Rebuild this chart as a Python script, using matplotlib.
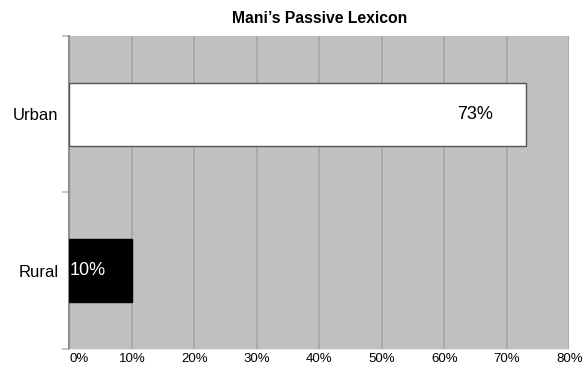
import matplotlib.pyplot as plt

# datos
categorias = ['Rural', 'Urban']
valores = [10, 73]
colores = ['black', 'white']
etiquetas = ['10%', '73%']
xticks = [0, 10, 20, 30, 40, 50, 60, 70, 80]

plt.rcParams['font.family'] = ['Liberation Sans', 'DejaVu Sans']

fig = plt.figure(figsize=(5.82, 3.67), dpi=100)
ax = fig.add_axes([0.1194, 0.049, 0.859, 0.853])
ax.set_facecolor('#c0c0c0')

y = range(len(categorias))
ax.barh(y, valores, height=0.4, color=colores, edgecolor=['black', '#555555'],
        linewidth=1, zorder=3)

# etiquetas de valor
ax.text(0.1, 0, etiquetas[0], color='white', fontsize=13,
        va='center', ha='left', zorder=4)
ax.text(valores[1] - 5.2, 1, etiquetas[1], color='black', fontsize=13,
        va='center', ha='right', zorder=4)

ax.set_xlim(0, 80)
ax.set_ylim(-0.5, 1.5)
ax.set_xticks(xticks)
ax.set_xticklabels([f'{t}%' for t in xticks], fontsize=9.5)
ax.get_xticklabels()[0].set_ha('left')
ax.set_yticks(list(y))
ax.set_yticklabels(categorias, fontsize=12)
ax.set_yticks([-0.5, 0.5, 1.5], minor=True)
ax.tick_params(axis='y', which='major', length=0, pad=8)
ax.tick_params(axis='y', which='minor', length=5, color='#c8c8c8', width=1.5)
ax.tick_params(axis='x', length=0, pad=3)

ax.grid(axis='x', color='#a6a6a6', linewidth=1.2, zorder=0)
ax.set_axisbelow(True)

for s in ['top', 'right']:
    ax.spines[s].set_visible(False)
ax.spines['left'].set_color('#909090')
ax.spines['left'].set_linewidth(1.5)
ax.spines['bottom'].set_color('#e8e8e8')

ax.set_title('Mani’s Passive Lexicon', fontsize=11.3, fontweight='bold', pad=9)

fig.savefig('out.png', dpi=100)
